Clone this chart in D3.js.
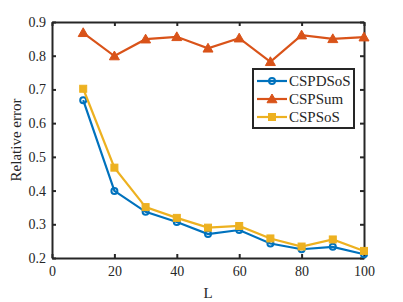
<!DOCTYPE html>
<html>
<head>
<meta charset="utf-8">
<script src="https://cdn.jsdelivr.net/npm/d3@7"></script>
<style>
  body { margin: 0; background: #fff; }
  text { font-family: "Liberation Serif", "Times New Roman", serif; fill: #262626; }
</style>
</head>
<body>
<div id="chart"></div>
<script>
const L = [10, 20, 30, 40, 50, 60, 70, 80, 90, 100];
const cspdsos = [0.668, 0.399, 0.337, 0.307, 0.271, 0.283, 0.243, 0.226, 0.233, 0.211];
const cspsum = [0.868, 0.799, 0.849, 0.856, 0.822, 0.852, 0.782, 0.861, 0.850, 0.855];
const cspsos = [0.702, 0.468, 0.351, 0.319, 0.290, 0.295, 0.258, 0.234, 0.255, 0.221];
const xTicks = [0, 20, 40, 60, 80, 100];
const yTicks = [0.2, 0.3, 0.4, 0.5, 0.6, 0.7, 0.8, 0.9];

const width = 403, height = 302,
      margin = { top: 22, right: 39, bottom: 44, left: 52 };

const svg = d3.select("#chart").append("svg")
  .attr("width", width).attr("height", height);

const x = d3.scaleLinear().domain([0, 100]).range([margin.left, width - margin.right]);
const y = d3.scaleLinear().domain([0.2, 0.9]).range([height - margin.bottom, margin.top]);

const series = [
  { name: "CSPDSoS", values: cspdsos, color: "#0072BD", marker: "circle" },
  { name: "CSPSum", values: cspsum, color: "#D95319", marker: "triangle" },
  { name: "CSPSoS", values: cspsos, color: "#EDB120", marker: "square" }
];

const axisColor = "#262626";
const tick = 4;

// axes with inward ticks (box on)
const gx = svg.append("g").attr("transform", `translate(0,${y(0.2)})`)
  .call(d3.axisBottom(x).tickValues(xTicks).tickSize(-tick).tickPadding(8).tickSizeOuter(0));
const gxTop = svg.append("g").attr("transform", `translate(0,${y(0.9)})`)
  .call(d3.axisTop(x).tickValues(xTicks).tickSize(-tick).tickFormat("").tickSizeOuter(0));
const gy = svg.append("g").attr("transform", `translate(${x(0)},0)`)
  .call(d3.axisLeft(y).tickValues(yTicks).tickSize(-tick).tickPadding(6).tickFormat(d3.format(".1f")).tickSizeOuter(0));
const gyRight = svg.append("g").attr("transform", `translate(${x(100)},0)`)
  .call(d3.axisRight(y).tickValues(yTicks).tickSize(-tick).tickFormat("").tickSizeOuter(0));

[gx, gxTop, gy, gyRight].forEach(g => {
  g.select(".domain").attr("stroke", axisColor).attr("stroke-width", 2);
  g.selectAll(".tick line").attr("stroke", axisColor).attr("stroke-width", 2);
  g.selectAll(".tick text").attr("font-size", 14).attr("fill", "#3a3a3a")
    .style("font-family", "'Liberation Serif', serif");
});

const line = d3.line().x((d, i) => x(L[i])).y(d => y(d));

function drawMarker(g, type, cx, cy, color) {
  if (type === "circle") {
    g.append("circle").attr("cx", cx).attr("cy", cy).attr("r", 3)
      .attr("fill", "none").attr("stroke", color).attr("stroke-width", 2);
  } else if (type === "triangle") {
    const s = 5;
    g.append("path")
      .attr("d", `M${cx},${cy - s}L${cx + s},${cy + s * 0.75}L${cx - s},${cy + s * 0.75}Z`)
      .attr("fill", color).attr("stroke", color).attr("stroke-width", 1);
  } else {
    g.append("rect").attr("x", cx - 3.5).attr("y", cy - 3.5).attr("width", 7).attr("height", 7)
      .attr("fill", color).attr("stroke", color).attr("stroke-width", 1);
  }
}

series.forEach(s => {
  svg.append("path").datum(s.values)
    .attr("fill", "none").attr("stroke", s.color).attr("stroke-width", 2.2)
    .attr("d", line);
  const g = svg.append("g");
  s.values.forEach((v, i) => drawMarker(g, s.marker, x(L[i]), y(v), s.color));
});

// labels
svg.append("text")
  .attr("x", (x(0) + x(100)) / 2).attr("y", 298)
  .attr("text-anchor", "middle").attr("font-size", 15)
  .text("L");

svg.append("text")
  .attr("transform", `translate(21,${(y(0.2) + y(0.9)) / 2}) rotate(-90)`)
  .attr("text-anchor", "middle").attr("font-size", 15)
  .text("Relative error");

// legend
const lg = svg.append("g").attr("transform", "translate(253,69)");
lg.append("rect").attr("width", 101).attr("height", 59)
  .attr("fill", "#fff").attr("stroke", axisColor).attr("stroke-width", 2);
series.forEach((s, i) => {
  const ry = 12 + i * 18;
  lg.append("line").attr("x1", 4).attr("x2", 34).attr("y1", ry).attr("y2", ry)
    .attr("stroke", s.color).attr("stroke-width", 2.2);
  drawMarker(lg, s.marker, 19, ry, s.color);
  lg.append("text").attr("x", 36).attr("y", ry + 5)
    .attr("font-size", 15).text(s.name);
});
</script>
</body>
</html>
